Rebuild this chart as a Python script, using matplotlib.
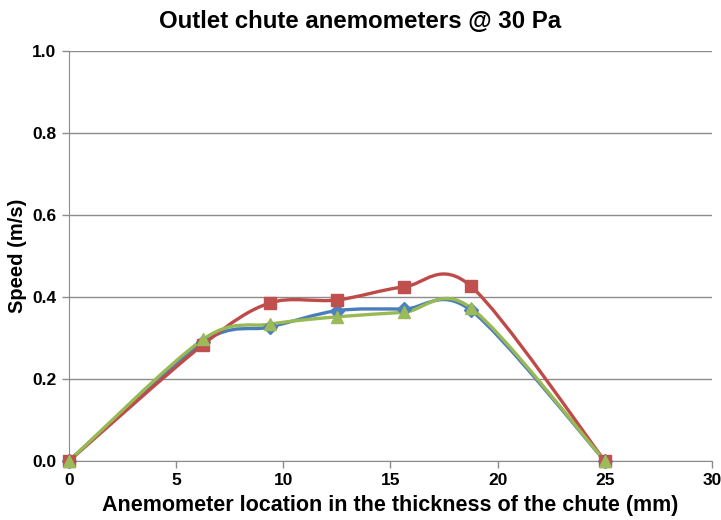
import numpy as np
import matplotlib
matplotlib.use("Agg")
import matplotlib.pyplot as plt
from matplotlib.path import Path
from matplotlib.patches import PathPatch

plt.rcParams['font.family'] = ['Liberation Sans', 'DejaVu Sans']

# anemometer positions (mm) and speeds (m/s)
x_mm = [0, 6.25, 9.375, 12.5, 15.625, 18.75, 25]
speed_blue = [0, 0.290, 0.327, 0.367, 0.371, 0.368, 0]
speed_red = [0, 0.284, 0.386, 0.393, 0.425, 0.427, 0]
speed_green = [0, 0.297, 0.334, 0.352, 0.363, 0.374, 0]

x_ticks = [0, 5, 10, 15, 20, 25, 30]
y_ticks = [0.0, 0.2, 0.4, 0.6, 0.8, 1.0]


def smooth_path(xs, ys, k=1 / 6.5):
    # excel-like smoothed line: cubic bezier between points
    pts = np.column_stack([xs, ys]).astype(float)
    n = len(pts)
    verts = [pts[0]]
    codes = [Path.MOVETO]
    for i in range(n - 1):
        p0 = pts[i - 1] if i > 0 else pts[i]
        p1 = pts[i]
        p2 = pts[i + 1]
        p3 = pts[i + 2] if i + 2 < n else pts[i + 1]
        c1 = p1 + (p2 - p0) * k
        c2 = p2 - (p3 - p1) * k
        verts += [c1, c2, p2]
        codes += [Path.CURVE4] * 3
    return Path(verts, codes)


fig = plt.figure(figsize=(7.21, 5.20), dpi=100)
ax = fig.add_axes([0.0957, 0.1135, 0.8918, 0.7875])

series = [
    (speed_blue, '#4A7EBB', '#4F81BD', 'D', 7.5),
    (speed_red, '#BE4B48', '#C0504D', 's', 8),
    (speed_green, '#98B954', '#9BBB59', '^', 9),
]
for ys, lc, mc, mk, ms in series:
    ax.add_patch(PathPatch(smooth_path(x_mm, ys), fill=False, edgecolor=lc,
                           lw=2.4, zorder=3, capstyle='round', joinstyle='round'))
for ys, lc, mc, mk, ms in series:
    ax.plot(x_mm, ys, linestyle='none', marker=mk, ms=ms, mfc=mc, mec=mc, zorder=4, clip_on=False)

ax.set_xlim(0, 30)
ax.set_ylim(0, 1.0)
ax.set_xticks(x_ticks)
ax.set_yticks(y_ticks)
ax.set_yticklabels(['%.1f' % v for v in y_ticks])
ax.yaxis.grid(True, color='#8c8c8c', lw=1)
ax.set_axisbelow(True)
for s in ['top', 'right']:
    ax.spines[s].set_visible(False)
for s in ['left', 'bottom']:
    ax.spines[s].set_color('#8c8c8c')
ax.tick_params(axis='both', colors='#8c8c8c', length=5, width=1, labelcolor='black',
               labelsize=12.5, pad=4)
for lab in ax.get_xticklabels() + ax.get_yticklabels():
    lab.set_fontweight('bold')

ax.set_xlabel('Anemometer location in the thickness of the chute (mm)', fontsize=15.5,
              fontweight='bold', labelpad=5)
ax.set_ylabel('Speed (m/s)', fontsize=14.5, fontweight='bold', labelpad=4)
fig.text(0.50, 0.958, 'Outlet chute anemometers @ 30 Pa', ha='center', va='center',
         fontsize=17.3, fontweight='bold')

fig.savefig('out.png', dpi=100)
